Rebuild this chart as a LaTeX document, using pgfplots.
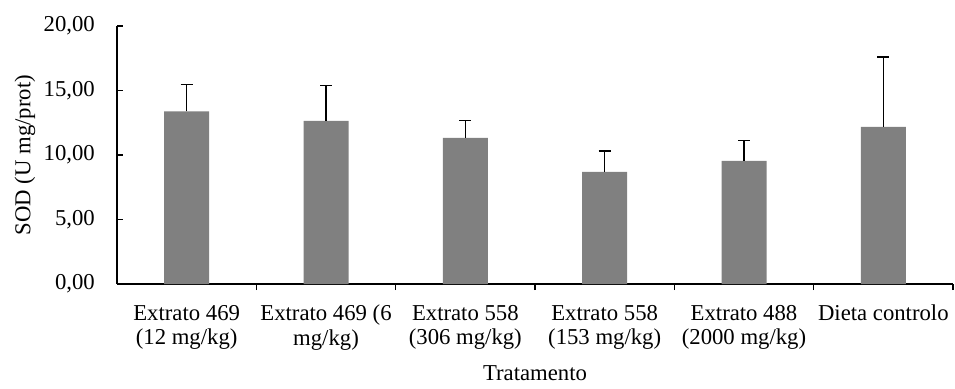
\documentclass[border=0pt]{standalone}
\usepackage{pgfplots}
\pgfplotsset{compat=1.18}
\usepackage{fontspec}
\setmainfont{Liberation Serif}
\begin{document}
\begin{tikzpicture}
\fontsize{22.8}{25}\selectfont
\begin{axis}[
  scale only axis,
  width=836bp, height=258bp,
  xmin=-0.5, xmax=5.5,
  ymin=0, ymax=20,
  axis x line=bottom, axis y line=left,
  axis line style={-, line width=1.5bp, black},
  xtick={0,1,2,3,4,5},
  xticklabels={{Extrato 469\\(12 mg/kg)},{Extrato 469 (6\\mg/kg)},{Extrato 558\\(306 mg/kg)},{Extrato 558\\(153 mg/kg)},{Extrato 488\\(2000 mg/kg)},{Dieta controlo}},
  major x tick style={draw=none},
  minor xtick={0.5,1.5,2.5,3.5,4.5,5.5},
  minor x tick style={line width=1.5bp, black},
  minor tick length=6bp,
  major tick length=6bp,
  tick align=inside,
  ytick={0,5,10,15,20},
  major y tick style={line width=1.5bp, black},
  /pgf/number format/.cd, fixed, fixed zerofill, precision=2, use comma, assume math mode=true,
  /pgfplots/.cd,
  xticklabel style={align=center, anchor=north, inner sep=0pt, yshift=-15bp, font=\fontsize{22.8}{24.5}\selectfont},
  yticklabel style={anchor=east, inner sep=0pt, xshift=-22bp, font=\fontsize{22.8}{25}\selectfont},
  xlabel={Tratamento},
  xlabel style={at={(axis description cs:0.5,0)}, anchor=north, inner sep=0pt, yshift=-81bp, font=\fontsize{22.8}{25}\selectfont},
  ylabel={SOD (U mg/prot)},
  ylabel style={at={(axis description cs:-0.11,0.5)}, anchor=center, inner sep=0pt, font=\fontsize{22.8}{25}\selectfont},
  ybar, bar width=45bp,
  clip=false,
]
\addplot[fill={rgb,255:red,128;green,128;blue,128}, draw=none,
  error bars/.cd, y dir=plus, y explicit,
  error bar style={line width=1.5bp, black},
  error mark options={rotate=90, mark size=6bp, line width=1.5bp, black}]
  coordinates {
  (0,13.39) +- (0,2.09)
  (1,12.64) +- (0,2.76)
  (2,11.32) +- (0,1.37)
  (3,8.69) +- (0,1.63)
  (4,9.55) +- (0,1.57)
  (5,12.18) +- (0,5.41)
  };
\coordinate (sw) at (rel axis cs:0,0);
\coordinate (ne) at (rel axis cs:1,1);
\end{axis}
\pgfresetboundingbox
\path ([shift={(-117bp,-104bp)}]sw) rectangle ([shift={(2bp,26bp)}]ne);
\end{tikzpicture}
\end{document}
